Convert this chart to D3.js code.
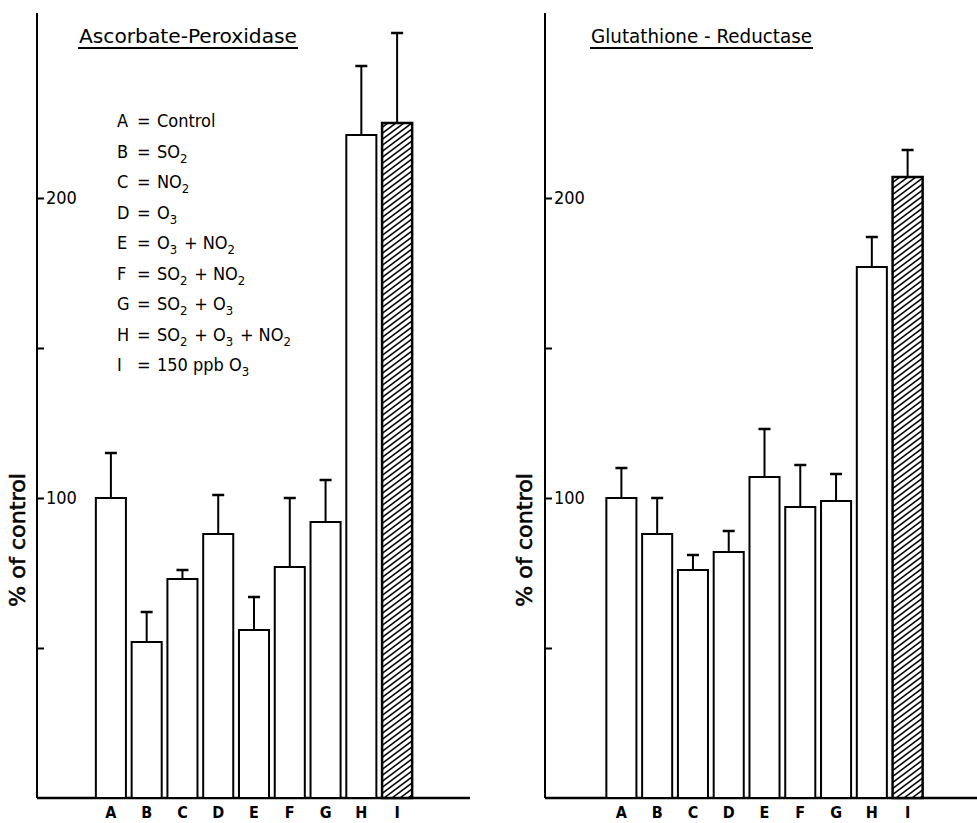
<!DOCTYPE html>
<html>
<head>
<meta charset="utf-8">
<script src="https://cdnjs.cloudflare.com/ajax/libs/d3/7.8.5/d3.min.js"></script>
<style>
  body { margin: 0; background: #fff; }
  svg text { font-family: "DejaVu Sans Condensed", "Liberation Sans Narrow", "DejaVu Sans", sans-serif; fill: #000; }
</style>
</head>
<body>
<div id="chart"></div>
<script>
var W = 977, H = 823;

var categories = ['A','B','C','D','E','F','G','H','I'];
// Ascorbate-Peroxidase, % of control, and upper error (SD)
var apxValues = [100, 52, 73, 88, 56, 77, 92, 221, 225];
var apxErrors = [15, 10, 3, 13, 11, 23, 14, 23, 30];
// Glutathione-Reductase
var grValues = [100, 88, 76, 82, 107, 97, 99, 177, 207];
var grErrors = [10, 12, 5, 7, 16, 14, 9, 10, 9];

var yTicks = [50, 100, 150, 200];
var yTickLabels = [100, 200];

// legend: "_n" means subscript n
var legendKeys = ['A','B','C','D','E','F','G','H','I'];
var legendTexts = ['Control', 'SO_2', 'NO_2', 'O_3', 'O_3 + NO_2', 'SO_2 + NO_2', 'SO_2 + O_3', 'SO_2 + O_3 + NO_2', '150 ppb O_3'];

var svg = d3.select('#chart').append('svg')
    .attr('width', W)
    .attr('height', H);

var defs = svg.append('defs');
var pat = defs.append('pattern')
    .attr('id', 'hatch')
    .attr('patternUnits', 'userSpaceOnUse')
    .attr('width', 8)
    .attr('height', 6);
pat.append('rect').attr('width', 8).attr('height', 6).attr('fill', '#fff');
pat.append('path')
    .attr('d', 'M0,6 L8,0 M-2,1.5 L2,-1.5 M6,7.5 L10,4.5')
    .attr('stroke', '#000')
    .attr('stroke-width', 1.5);

var y = d3.scaleLinear().domain([0, 100]).range([798, 498]);

function drawPanel(opts) {
    var g = svg.append('g');

    var x = d3.scaleBand()
        .domain(categories)
        .range(opts.xRange)
        .paddingInner(0.16)
        .paddingOuter(0.08);

    // y axis, ticks pointing inward with labels to the right
    var yAxis = d3.axisRight(y)
        .tickValues(yTicks)
        .tickSizeInner(7)
        .tickSizeOuter(0)
        .tickPadding(2)
        .tickFormat(function(d){ return yTickLabels.indexOf(d) >= 0 ? d : ''; });

    var ya = g.append('g')
        .attr('transform', 'translate(' + opts.axisX + ',0)')
        .call(yAxis);
    ya.select('.domain').attr('d', 'M0,' + y(0) + 'V' + y(261.7)).attr('stroke-width', 2);
    ya.selectAll('.tick line').attr('stroke-width', 2);
    ya.selectAll('.tick text')
        .style('font-size', '18px')
        .attr('font-family', null);

    // x axis baseline
    g.append('line')
        .attr('x1', opts.axisX).attr('x2', opts.axisEnd)
        .attr('y1', y(0)).attr('y2', y(0))
        .attr('stroke', '#000').attr('stroke-width', 2.5);

    // bars
    var bars = g.selectAll('.bar')
        .data(categories)
        .enter().append('g')
        .attr('class', 'bar');

    bars.append('line')
        .attr('x1', function(d){ return x(d) + x.bandwidth()/2; })
        .attr('x2', function(d){ return x(d) + x.bandwidth()/2; })
        .attr('y1', function(d,i){ return y(opts.values[i]); })
        .attr('y2', function(d,i){ return y(opts.values[i] + opts.errors[i]); })
        .attr('stroke', '#000').attr('stroke-width', 2);

    bars.append('line')
        .attr('x1', function(d){ return x(d) + x.bandwidth()/2 - 6; })
        .attr('x2', function(d){ return x(d) + x.bandwidth()/2 + 6; })
        .attr('y1', function(d,i){ return y(opts.values[i] + opts.errors[i]); })
        .attr('y2', function(d,i){ return y(opts.values[i] + opts.errors[i]); })
        .attr('stroke', '#000').attr('stroke-width', 2.5);

    bars.append('rect')
        .attr('x', function(d){ return x(d); })
        .attr('width', x.bandwidth())
        .attr('y', function(d,i){ return y(opts.values[i]); })
        .attr('height', function(d,i){ return y(0) - y(opts.values[i]); })
        .attr('fill', function(d){ return d === 'I' ? 'url(#hatch)' : '#fff'; })
        .attr('stroke', '#000')
        .attr('stroke-width', function(d){ return d === 'I' ? 2.5 : 2; });

    // category labels
    var xa = g.append('g')
        .attr('transform', 'translate(0,' + y(0) + ')')
        .call(d3.axisBottom(x).tickSize(0).tickPadding(9));
    xa.select('.domain').remove();
    xa.selectAll('text')
        .style('font-size', '16px')
        .style('font-weight', 'bold')
        .attr('font-family', null);

    // title, underlined
    g.append('text')
        .attr('x', opts.titleX)
        .attr('y', 43)
        .attr('textLength', opts.titleW)
        .attr('lengthAdjust', 'spacingAndGlyphs')
        .style('font-size', '19px')
        .text(opts.title);
    g.append('line')
        .attr('x1', opts.titleX - 1).attr('x2', opts.titleX + opts.titleW + 1)
        .attr('y1', 48).attr('y2', 48)
        .attr('stroke', '#000').attr('stroke-width', 1.8);

    // y label
    g.append('text')
        .attr('transform', 'translate(' + opts.labelX + ',540) rotate(-90)')
        .attr('text-anchor', 'middle')
        .attr('textLength', 134)
        .attr('lengthAdjust', 'spacingAndGlyphs')
        .style('font-size', '21px')
        .style('stroke', '#000')
        .style('stroke-width', 0.5)
        .text('% of control');

    return g;
}

drawPanel({
    xRange: [93, 415], axisX: 37, axisEnd: 470,
    values: apxValues, errors: apxErrors,
    title: 'Ascorbate-Peroxidase', titleX: 79, titleW: 218,
    labelX: 25
});

drawPanel({
    xRange: [603.5, 925.5], axisX: 545, axisEnd: 977,
    values: grValues, errors: grErrors,
    title: 'Glutathione - Reductase', titleX: 591, titleW: 221,
    labelX: 532
});

// legend in left panel
var legend = svg.append('g').attr('class', 'legend');
legendKeys.forEach(function(k, i) {
    var yy = 127 + i * 30.5;
    legend.append('text').attr('x', 117).attr('y', yy).style('font-size', '18px').text(k);
    legend.append('text').attr('x', 137).attr('y', yy).style('font-size', '18px').text('=');
    var t = legend.append('text').attr('x', 157).attr('y', yy).style('font-size', '18px');
    legendTexts[i].split(/(_\d)/).forEach(function(part) {
        if (!part) return;
        if (part.charAt(0) === '_') {
            t.append('tspan').attr('dy', 5).style('font-size', '13px').text(part.slice(1));
            t.append('tspan').attr('dy', -5).text('\u200a');
        } else {
            t.append('tspan').text(part);
        }
    });
});
</script>
</body>
</html>
